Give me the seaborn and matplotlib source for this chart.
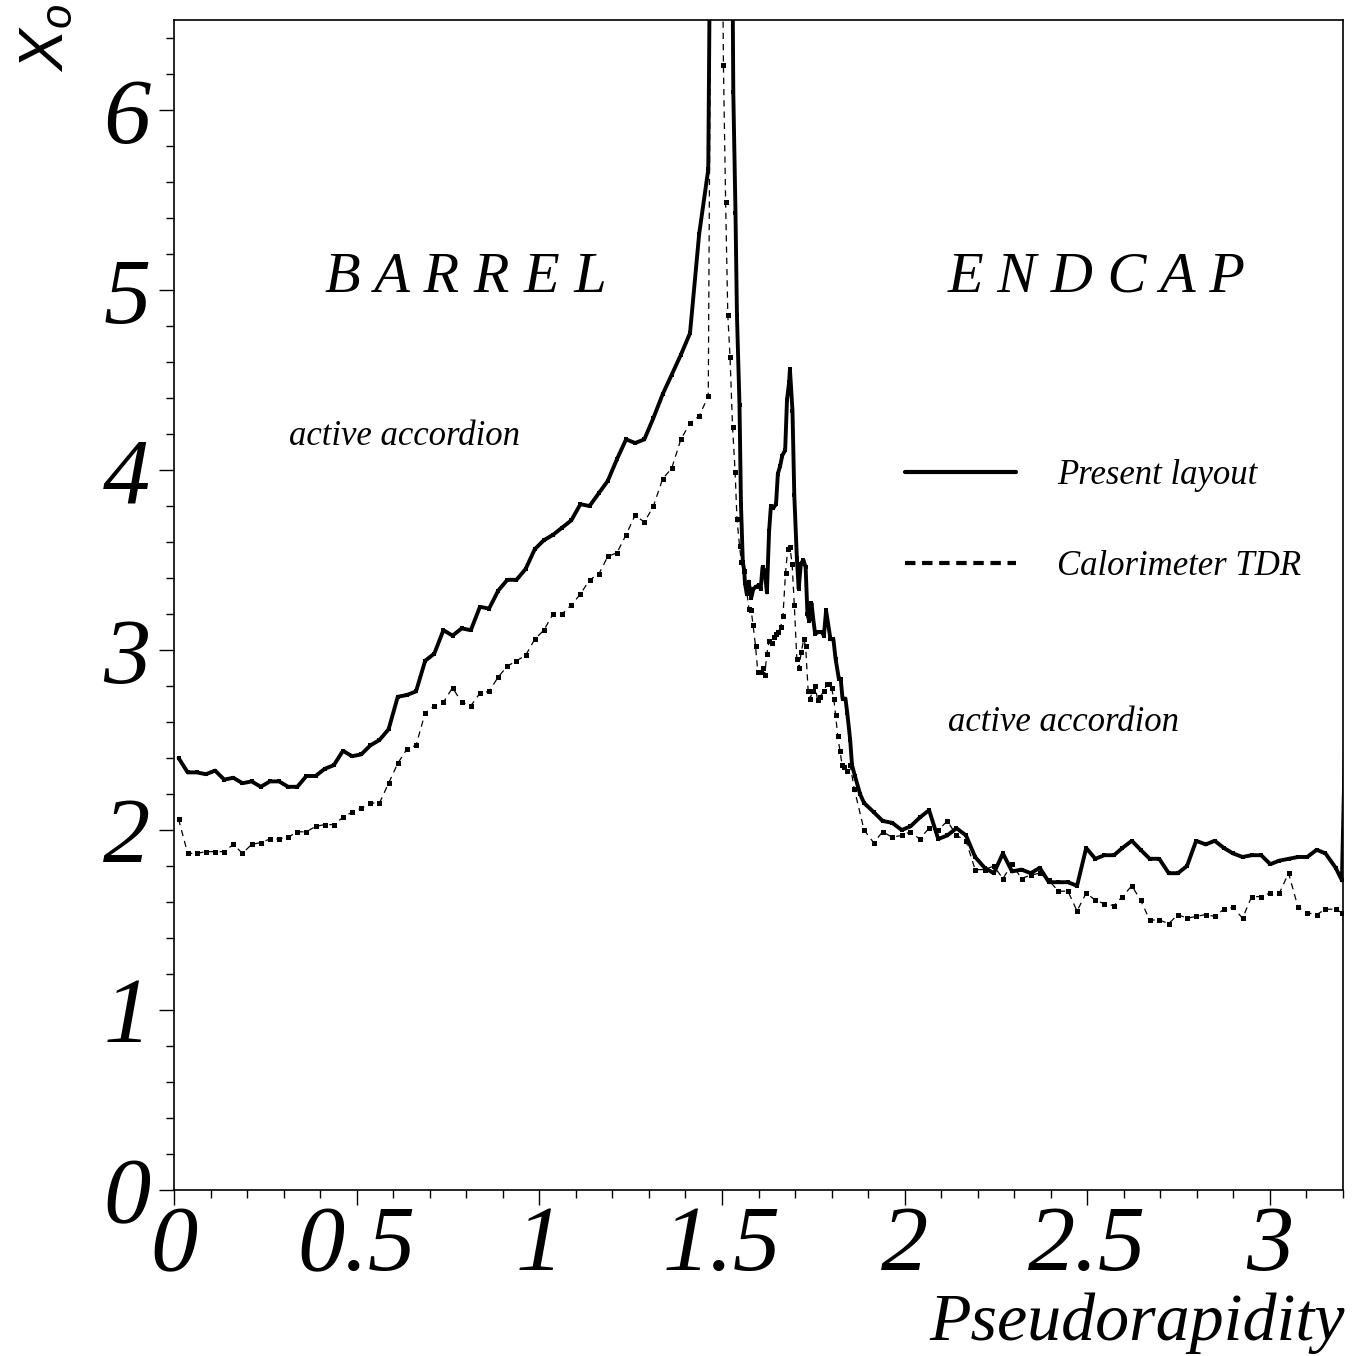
import numpy as np
import pandas as pd
import matplotlib
matplotlib.use("Agg")
import matplotlib.pyplot as plt
from matplotlib.ticker import MultipleLocator, FuncFormatter
from matplotlib.lines import Line2D
import seaborn as sns

# ---- data ----
# barrel: bins of 0.025 from 0.0125 to 1.4625
barrel_eta = [0.0125 + 0.025 * k for k in range(59)]
present_barrel = [2.40, 2.32, 2.32, 2.31, 2.33, 2.28, 2.29, 2.26, 2.27, 2.24,
                  2.27, 2.27, 2.24, 2.24, 2.30, 2.30, 2.34, 2.36, 2.44, 2.41,
                  2.42, 2.47, 2.50, 2.56, 2.74, 2.75, 2.77, 2.94, 2.98, 3.11,
                  3.08, 3.12, 3.11, 3.24, 3.23, 3.33, 3.39, 3.39, 3.45, 3.56,
                  3.61, 3.64, 3.68, 3.72, 3.81, 3.80, 3.87, 3.94, 4.06, 4.17,
                  4.15, 4.17, 4.29, 4.42, 4.53, 4.64, 4.76, 5.31, 5.67]
tdr_barrel = [2.06, 1.87, 1.87, 1.88, 1.88, 1.88, 1.92, 1.87, 1.92, 1.93,
              1.95, 1.95, 1.96, 1.99, 1.99, 2.02, 2.03, 2.03, 2.07, 2.10,
              2.12, 2.15, 2.15, 2.26, 2.37, 2.45, 2.47, 2.65, 2.69, 2.71,
              2.79, 2.71, 2.69, 2.76, 2.77, 2.85, 2.91, 2.94, 2.97, 3.06,
              3.11, 3.20, 3.20, 3.25, 3.31, 3.39, 3.42, 3.52, 3.54, 3.64,
              3.75, 3.71, 3.80, 3.95, 4.01, 4.17, 4.26, 4.30, 4.41]

# crack + endcap, present layout
present_end_eta = [1.475, 1.500, 1.525, 1.531, 1.537, 1.541, 1.548, 1.552, 1.557,
                   1.561, 1.563, 1.568, 1.573, 1.580, 1.586, 1.593, 1.600, 1.606,
                   1.611, 1.617, 1.623, 1.629, 1.634, 1.641, 1.648, 1.653, 1.659,
                   1.665, 1.673, 1.678, 1.684, 1.686, 1.693, 1.698, 1.705, 1.710,
                   1.716, 1.723, 1.729, 1.734, 1.739, 1.745, 1.750, 1.755, 1.764,
                   1.773, 1.779, 1.785, 1.791, 1.797, 1.805, 1.811, 1.820, 1.825,
                   1.830, 1.838, 1.843, 1.851, 1.856, 1.864, 1.878, 1.889, 1.915,
                   1.940, 1.966, 1.992, 2.016, 2.042, 2.067, 2.092, 2.117, 2.142,
                   2.168, 2.193, 2.219, 2.244, 2.269, 2.294, 2.320, 2.345, 2.370,
                   2.395, 2.421, 2.447, 2.472, 2.497, 2.522, 2.547, 2.573, 2.596,
                   2.622, 2.646, 2.671, 2.697, 2.723, 2.748, 2.773, 2.798, 2.824,
                   2.849, 2.874, 2.899, 2.925, 2.950, 2.976, 3.001, 3.026, 3.051,
                   3.077, 3.102, 3.128, 3.152, 3.180, 3.197, 3.210]
present_end = [9.0, 12.0, 8.0, 6.10, 5.43, 4.86, 4.36, 3.81, 3.49,
               3.44, 3.37, 3.31, 3.38, 3.29, 3.34, 3.35, 3.36, 3.34,
               3.46, 3.44, 3.32, 3.66, 3.80, 3.79, 3.81, 3.98, 4.02,
               4.08, 4.11, 4.39, 4.49, 4.56, 4.33, 3.86, 3.51, 3.34,
               3.48, 3.50, 3.46, 3.20, 3.16, 3.26, 3.17, 3.09, 3.10,
               3.10, 3.08, 3.22, 3.14, 3.06, 3.06, 2.95, 2.84, 2.84,
               2.73, 2.73, 2.65, 2.50, 2.36, 2.30, 2.20, 2.15, 2.10,
               2.05, 2.04, 2.00, 2.02, 2.07, 2.11, 1.95, 1.97, 2.01,
               1.97, 1.85, 1.79, 1.76, 1.87, 1.77, 1.78, 1.76, 1.79,
               1.71, 1.71, 1.71, 1.69, 1.90, 1.84, 1.86, 1.86, 1.90,
               1.94, 1.89, 1.84, 1.84, 1.76, 1.76, 1.80, 1.94, 1.92,
               1.94, 1.90, 1.87, 1.85, 1.86, 1.86, 1.81, 1.83, 1.84,
               1.85, 1.85, 1.89, 1.87, 1.79, 1.72, 2.90]

# crack + endcap, calorimeter TDR
tdr_end_eta = [1.475, 1.490, 1.504, 1.510, 1.516, 1.522, 1.529, 1.536, 1.541,
               1.548, 1.553, 1.560, 1.574, 1.580, 1.585, 1.592, 1.598, 1.606,
               1.611, 1.617, 1.623, 1.629, 1.636, 1.642, 1.648, 1.654, 1.661,
               1.667, 1.674, 1.680, 1.686, 1.692, 1.698, 1.705, 1.711, 1.717,
               1.724, 1.729, 1.736, 1.741, 1.748, 1.755, 1.762, 1.768, 1.779,
               1.787, 1.794, 1.800, 1.806, 1.811, 1.817, 1.823, 1.829, 1.835,
               1.843, 1.851, 1.862, 1.889, 1.915, 1.940, 1.966, 1.992, 2.016,
               2.041, 2.067, 2.092, 2.117, 2.142, 2.168, 2.193, 2.219, 2.244,
               2.269, 2.294, 2.320, 2.345, 2.370, 2.395, 2.421, 2.447, 2.472,
               2.497, 2.522, 2.547, 2.573, 2.596, 2.622, 2.646, 2.671, 2.697,
               2.723, 2.748, 2.773, 2.798, 2.824, 2.849, 2.874, 2.899, 2.925,
               2.950, 2.976, 3.001, 3.026, 3.051, 3.077, 3.102, 3.128, 3.152,
               3.180, 3.197, 3.210]
tdr_end = [9.0, 10.0, 6.25, 5.49, 4.86, 4.63, 4.24, 3.99, 3.73,
           3.58, 3.49, 3.44, 3.23, 3.22, 3.14, 3.02, 2.88, 2.88,
           2.90, 2.86, 2.98, 3.05, 3.04, 3.07, 3.09, 3.10, 3.13,
           3.19, 3.43, 3.56, 3.57, 3.48, 3.25, 2.95, 2.90, 2.99,
           3.06, 3.02, 2.77, 2.73, 2.77, 2.80, 2.72, 2.74, 2.77,
           2.81, 2.81, 2.79, 2.73, 2.64, 2.52, 2.44, 2.36, 2.35,
           2.33, 2.36, 2.23, 2.00, 1.93, 1.99, 1.96, 1.97, 1.99,
           1.95, 2.01, 2.00, 2.05, 1.97, 1.94, 1.78, 1.78, 1.80,
           1.73, 1.81, 1.73, 1.75, 1.76, 1.72, 1.66, 1.66, 1.55,
           1.65, 1.61, 1.59, 1.58, 1.63, 1.69, 1.61, 1.50, 1.50,
           1.48, 1.53, 1.51, 1.52, 1.53, 1.52, 1.56, 1.57, 1.51,
           1.63, 1.63, 1.65, 1.65, 1.76, 1.57, 1.54, 1.53, 1.56,
           1.56, 1.54, 1.40]

df_present = pd.DataFrame({"eta": barrel_eta + present_end_eta,
                           "x0": present_barrel + present_end})
df_tdr = pd.DataFrame({"eta": barrel_eta + tdr_end_eta,
                       "x0": tdr_barrel + tdr_end})

# ---- style ----
sns.set_style("ticks")
plt.rcParams["font.family"] = ["Liberation Serif", "DejaVu Serif"]
plt.rcParams["font.style"] = "italic"
plt.rcParams["text.color"] = "black"
plt.rcParams["axes.edgecolor"] = "black"
plt.rcParams["xtick.color"] = "black"
plt.rcParams["ytick.color"] = "black"
plt.rcParams["mathtext.fontset"] = "custom"
plt.rcParams["mathtext.rm"] = "Liberation Sans"
plt.rcParams["mathtext.it"] = "Liberation Sans"

fig = plt.figure(figsize=(13.67, 13.56), dpi=100)
ax = fig.add_axes([174 / 1367, 1 - 1190 / 1356, 1169 / 1367, 1170 / 1356])

sns.lineplot(data=df_present, x="eta", y="x0", ax=ax, color="black",
             linewidth=2.8, marker="s", markersize=2.5, markeredgewidth=0,
             estimator=None, sort=False)
sns.lineplot(data=df_tdr, x="eta", y="x0", ax=ax, color="black",
             linewidth=0.9, linestyle=(0, (5, 4)), marker="s", markersize=3.6,
             markeredgewidth=0, estimator=None, sort=False)

ax.set_xlim(0, 3.2)
ax.set_ylim(0, 6.5)
ax.set_xlabel("")
ax.set_ylabel("")

ax.xaxis.set_major_locator(MultipleLocator(0.5))
ax.xaxis.set_minor_locator(MultipleLocator(0.1))
ax.yaxis.set_major_locator(MultipleLocator(1))
ax.yaxis.set_minor_locator(MultipleLocator(0.2))
fmt = FuncFormatter(lambda v, p: f"{v:g}")
ax.xaxis.set_major_formatter(fmt)
ax.yaxis.set_major_formatter(fmt)
ax.tick_params(which="major", direction="out", length=11, width=1.0,
               labelsize=68, top=False, right=False, colors="black")
ax.tick_params(which="minor", direction="out", length=6, width=1.0,
               top=False, right=False, colors="black")
ax.tick_params(axis="x", which="major", pad=0)
ax.tick_params(axis="y", which="major", pad=6)
for s in ax.spines.values():
    s.set_linewidth(1.2)
    s.set_color("black")
    s.set_visible(True)

# annotations
ax.text(0.413, 4.99, "B A R R E L", fontsize=42, va="baseline")
ax.text(2.119, 4.99, "E N D C A P", fontsize=42, va="baseline")
ax.text(0.315, 4.14, "active accordion", fontsize=25, va="baseline")
ax.text(2.119, 2.55, "active accordion", fontsize=25, va="baseline")

handles = [Line2D([], [], color="black", linewidth=3.0),
           Line2D([], [], color="black", linewidth=3.0, linestyle=(0, (2.5, 1.6)))]
ax.legend(handles, ["Present layout", "Calorimeter TDR"], loc="upper left",
          bbox_to_anchor=(0.625, 0.625), frameon=False, fontsize=25,
          handlelength=3.2, handletextpad=1.2, labelspacing=1.68,
          borderpad=0, borderaxespad=0)

fig.text(1345 / 1367, 1 - 1340 / 1356, "Pseudorapidity", fontsize=49,
         ha="right", va="baseline")
fig.text(48 / 1367, 1 - 4 / 1356, r"$\mathrm{X}_{\mathrm{o}}$", fontsize=45,
         rotation=90, ha="center", va="top")

fig.savefig("out.png", dpi=100)
